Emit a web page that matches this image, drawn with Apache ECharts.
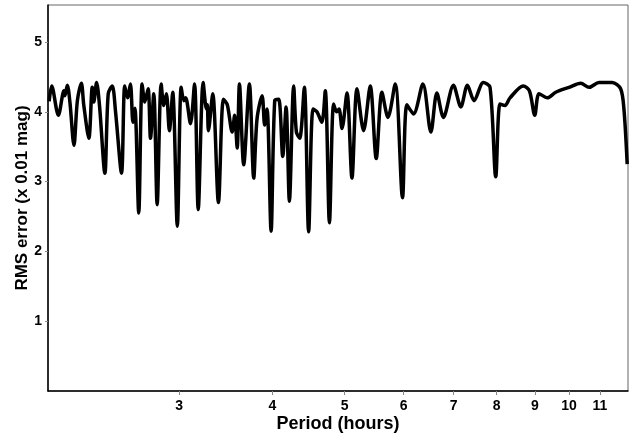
<!DOCTYPE html>
<html>
<head>
<meta charset="utf-8">
<script src="https://cdn.jsdelivr.net/npm/echarts@6/dist/echarts.min.js"></script>
<style>
html,body{margin:0;padding:0;background:#fff;}
#chart{width:630px;height:438px;}
</style>
</head>
<body>
<div id="chart"></div>
<script>
const periods = [2.007,2.023,2.065,2.101,2.107,2.123,2.140,2.167,2.190,2.217,2.234,2.269,2.293,2.304,2.324,2.345,2.384,2.409,2.439,2.464,2.510,2.535,2.557,2.580,2.600,2.616,2.647,2.675,2.697,2.725,2.745,2.773,2.802,2.837,2.860,2.883,2.910,2.940,2.982,3.018,3.043,3.060,3.106,3.145,3.181,3.230,3.263,3.272,3.283,3.327,3.386,3.439,3.480,3.533,3.560,3.588,3.613,3.661,3.726,3.776,3.815,3.875,3.906,3.935,3.984,4.029,4.079,4.130,4.173,4.216,4.272,4.308,4.352,4.415,4.474,4.535,4.590,4.660,4.710,4.771,4.833,4.880,4.915,4.960,5.037,5.115,5.195,5.302,5.412,5.513,5.611,5.716,5.846,5.979,6.061,6.186,6.368,6.527,6.649,6.785,6.998,7.160,7.307,7.459,7.676,7.836,7.975,8.081,8.207,8.335,8.684,8.850,8.997,9.117,9.353,9.599,10.00,10.37,10.64,10.97,11.43,11.73,11.85,11.97];
const rms = [4.15,4.37,3.95,4.30,4.23,4.38,4.14,3.52,4.16,4.41,4.09,3.62,4.35,4.14,4.42,4.09,3.12,4.26,4.37,4.00,3.12,4.37,4.20,4.40,3.85,4.05,2.55,4.40,4.14,4.33,3.62,4.26,2.67,4.40,4.09,4.26,3.73,4.28,2.36,4.35,4.16,4.20,3.83,4.40,2.60,4.42,4.04,4.10,3.73,4.26,2.70,4.18,4.10,3.71,3.95,3.48,4.40,3.24,4.40,3.05,3.90,4.23,3.81,4.04,2.29,4.16,4.18,3.36,4.07,2.72,4.37,3.71,3.62,4.35,2.28,4.04,4.00,3.85,4.30,2.41,4.11,4.00,4.04,3.76,4.27,3.05,4.33,3.73,4.37,3.33,4.28,3.92,4.40,2.77,4.10,3.97,4.40,3.71,4.27,3.92,4.38,4.07,4.38,4.16,4.42,4.35,3.07,4.11,4.09,4.20,4.37,4.30,3.95,4.26,4.20,4.28,4.35,4.41,4.35,4.42,4.42,4.33,4.04,3.25];
const xTickLabels = [3,4,5,6,7,8,9,10,11];
const yTickLabels = [1,2,3,4,5];

const chart = echarts.init(document.getElementById('chart'), null, {renderer:'canvas'});
const fontFam = '"Liberation Sans", Arial, sans-serif';
chart.setOption({
  animation:false,
  backgroundColor:'#fff',
  grid:{left:48,right:2,top:5,bottom:43,show:true,borderColor:'#666',borderWidth:1},
  xAxis:{
    type:'log', logBase:10, min:2, max:12,
    name:'Period (hours)', nameLocation:'middle', nameGap:24, nameMoveOverlap:false,
    nameTextStyle:{fontFamily:fontFam,fontWeight:'bold',fontSize:18,color:'#000'},
    axisLine:{show:true,lineStyle:{color:'#000',width:1.5}},
    axisTick:{show:true,length:4,lineStyle:{color:'#888'},customValues:xTickLabels},
    axisLabel:{fontFamily:fontFam,fontWeight:'bold',fontSize:14,color:'#000',margin:8,customValues:xTickLabels},
    splitLine:{show:false},
    minorTick:{show:false}
  },
  yAxis:{
    type:'value', min:0, max:5.53,
    name:'RMS error (x 0.01 mag)', nameLocation:'middle', nameGap:17, nameMoveOverlap:false,
    nameTextStyle:{fontFamily:fontFam,fontWeight:'bold',fontSize:17,color:'#000'},
    axisLine:{show:true,lineStyle:{color:'#000',width:1.5}},
    axisTick:{show:true,length:3,lineStyle:{color:'#888'},customValues:yTickLabels},
    axisLabel:{fontFamily:fontFam,fontWeight:'bold',fontSize:14,color:'#000',margin:6,customValues:yTickLabels},
    splitLine:{show:false}
  },
  series:[{
    type:'line',
    data:periods.map((p,i)=>[p,rms[i]]),
    showSymbol:false,
    smooth:0.3,
    lineStyle:{color:'#000',width:3.5},
    z:1
  }]
});
</script>
</body>
</html>
